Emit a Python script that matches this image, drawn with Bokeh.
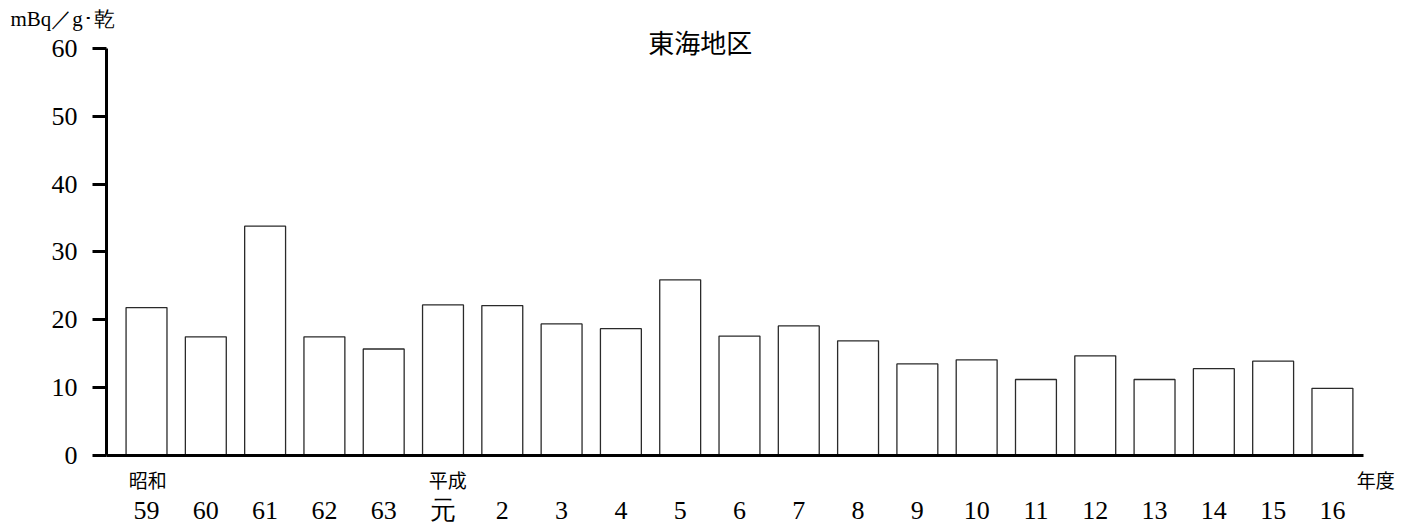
from bokeh.plotting import figure
from bokeh.models import Range1d, FixedTicker, Label, ColumnDataSource, LinearAxis
from bokeh.embed import file_html
from bokeh.resources import INLINE

# ---- data ----
year_labels = ["59", "60", "61", "62", "63", "元", "2", "3", "4", "5", "6",
               "7", "8", "9", "10", "11", "12", "13", "14", "15", "16"]
values = [21.8, 17.5, 33.8, 17.5, 15.7, 22.2, 22.1, 19.4, 18.7, 25.9, 17.6,
          19.1, 16.9, 13.5, 14.1, 11.2, 14.7, 11.2, 12.8, 13.9, 9.9]
y_ticks = [0, 10, 20, 30, 40, 50, 60]
era_texts = ["昭和", "平成", "年度"]
era_pos = [0.02, 5.08, 20.73]   # centres of the era / unit captions
title_text = "東海地区"
unit_text = "mBq／g･乾"

xs = list(range(len(values)))
src = ColumnDataSource(dict(x=xs, top=values))

serif = "Liberation Serif"
cjk = "Noto Sans CJK JP"

X_START, X_AXIS_END, X_END = -0.675, 20.53, 20.76

p = figure(width=1415, height=527, output_backend="svg", toolbar_location=None,
           x_range=Range1d(X_START, X_END), y_range=Range1d(0, 62.65),
           x_axis_location=None,
           min_border_left=106, min_border_right=38, min_border_top=30,
           min_border_bottom=71)
p.outline_line_color = None
p.grid.visible = False
p.background_fill_color = "white"
p.border_fill_color = "white"

# unit caption as the plot title (top-left)
p.title.text = unit_text
p.title.align = "left"
p.title.offset = -96
p.title.standoff = 0
p.title.text_font = serif
p.title.text_font_size = "21px"
p.title.text_font_style = "normal"
p.title.text_color = "black"

p.vbar(x="x", top="top", bottom=0, width=0.69, source=src,
       fill_color="white", line_color="#2a2a2a", line_width=1.3)

# y axis
ya = p.yaxis[0]
ya.ticker = FixedTicker(ticks=y_ticks)
ya.bounds = (0, 60)
ya.axis_line_width = 3
ya.axis_line_color = "black"
ya.major_tick_line_width = 3
ya.major_tick_out = 14
ya.major_tick_in = 0
ya.minor_tick_line_color = None
ya.major_label_standoff = 15
ya.major_label_text_font = serif
ya.major_label_text_font_size = "26px"
ya.major_label_text_color = "black"

def bare(ax):
    ax.major_tick_line_color = None
    ax.major_tick_out = 0
    ax.major_tick_in = 0
    ax.minor_tick_line_color = None
    ax.minor_tick_out = 0
    ax.minor_tick_in = 0
    ax.major_label_text_color = "black"
    ax.major_label_text_line_height = 1.0

# x axis line (closest to the frame)
la = LinearAxis(ticker=FixedTicker(ticks=[]), bounds=(X_START, X_AXIS_END))
bare(la)
la.axis_line_width = 3
la.axis_line_color = "black"
la.major_label_standoff = 0
la.major_label_text_font_size = "0px"
p.add_layout(la, "below")

# era captions
ea = LinearAxis(ticker=FixedTicker(ticks=era_pos),
                major_label_overrides={v: t for v, t in zip(era_pos, era_texts)})
bare(ea)
ea.axis_line_color = None
ea.major_label_standoff = 10
ea.major_label_text_font = cjk
ea.major_label_text_font_size = "19px"
p.add_layout(ea, "below")

# year numbers
xa = LinearAxis(ticker=FixedTicker(ticks=xs),
                major_label_overrides={i: s for i, s in enumerate(year_labels)})
bare(xa)
xa.axis_line_color = None
xa.major_label_standoff = 0
xa.major_label_text_font = serif
xa.major_label_text_font_size = "26px"
p.add_layout(xa, "below")

# chart title inside the (slightly taller) frame
p.add_layout(Label(x=9.34, y=61.1, text=title_text, text_align="center",
                   text_baseline="middle", text_font=cjk,
                   text_font_size="26px", text_color="black"))

open("out.html", "w").write(file_html(p, INLINE))
